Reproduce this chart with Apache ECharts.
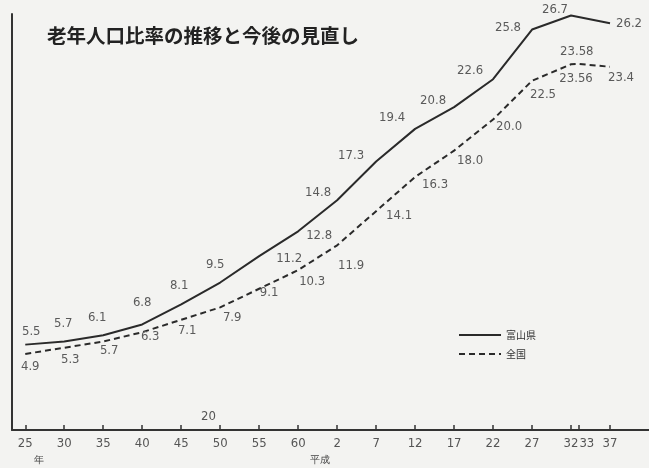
<!DOCTYPE html>
<html>
<head>
<meta charset="utf-8">
<script src="https://cdn.jsdelivr.net/npm/echarts@6/dist/echarts.min.js"></script>
<style>
html,body{margin:0;padding:0;background:#f3f3f1;}
#c{width:649px;height:468px;}
</style>
</head>
<body>
<div id="c"></div>
<script>
// ---- data ----
const tickYears  = [1950,1955,1960,1965,1970,1975,1980,1985,1990,1995,2000,2005,2010,2015,2020,2021,2025];
const tickLabels = ['25','30','35','40','45','50','55','60','2','7','12','17','22','27','32','33','37'];

const toyamaYears  = [1950,1955,1960,1965,1970,1975,1980,1985,1990,1995,2000,2005,2010,2015,2020,2025];
const toyamaValues = [5.5,5.7,6.1,6.8,8.1,9.5,11.2,12.8,14.8,17.3,19.4,20.8,22.6,25.8,26.7,26.2];

const nationalYears  = [1950,1955,1960,1965,1970,1975,1980,1985,1990,1995,2000,2005,2010,2015,2020,2021,2025];
const nationalValues = [4.9,5.3,5.7,6.3,7.1,7.9,9.1,10.3,11.9,14.1,16.3,18.0,20.0,22.5,23.56,23.58,23.4];

// label placement (styling only)
const toyamaLabelOffsets = [[6,-13],[-1,-18],[-6,-18],[0,-22],[-2,-19],[-5,-18],[30,2],[21,4],[-19,-8],[-25,-6],[-23,-11],[-21,-7],[-23,-9],[-24,-2],[-16,-6],[19,0]];
const nationalLabelOffsets = [[5,13],[6,12],[6,9],[8,4],[6,11],[12,10],[10,4],[14,12],[14,20],[23,4],[20,8],[16,10],[16,7],[11,14],[5,14],[-2,-12],[11,11]];

function fmt(v){ return Number.isInteger(Math.round(v*100)/10) ? v.toFixed(1) : String(v); }

function build(years, vals, offs){
  return years.map((y,i)=>({
    value:[y, vals[i]],
    label:{offset:offs[i]}
  }));
}

const labelFont = "'Liberation Sans Narrow','DejaVu Sans Condensed','Roboto',sans-serif";
const cjk = "'Noto Sans CJK JP','Noto Sans CJK SC',sans-serif";

const chart = echarts.init(document.getElementById('c'), null, {renderer:'canvas'});
chart.setOption({
  backgroundColor:'#f3f3f1',
  animation:false,
  title:{
    text:'老年人口比率の推移と今後の見直し',
    left:42, top:21,
    textStyle:{fontSize:19.5, fontWeight:'bold', color:'#222', fontFamily:cjk}
  },
  legend:{
    orient:'vertical', left:453, top:325,
    itemWidth:42, itemHeight:12, itemGap:9,
    textStyle:{fontSize:10, color:'#333', fontFamily:cjk},
    data:['富山県','全国']
  },
  grid:{left:12, right:0, top:14, bottom:38},
  xAxis:{
    type:'value', min:1948.3, max:2030,
    splitLine:{show:false},
    axisLine:{lineStyle:{color:'#333', width:2}},
    axisTick:{show:true, inside:true, length:5, customValues:tickYears, lineStyle:{color:'#333', width:1.5}},
    axisLabel:{
      customValues:tickYears, margin:7,
      fontSize:13, color:'#555', fontFamily:labelFont,
      formatter:function(v){
        const i = tickYears.indexOf(v);
        const t = i>=0 ? tickLabels[i] : '';
        if (v===2021) return '{s|'+t+'}';
        return t;
      },
      rich:{s:{fontSize:13, color:'#555', fontFamily:labelFont, padding:[0,0,0,16]}}
    }
  },
  yAxis:{
    type:'value', min:0, max:26.8,
    splitLine:{show:false},
    axisLine:{show:true, lineStyle:{color:'#333', width:2}},
    axisTick:{show:false},
    axisLabel:{show:false}
  },
  series:[
    {
      name:'富山県', type:'line',
      data:build(toyamaYears, toyamaValues, toyamaLabelOffsets),
      symbol:'circle', symbolSize:1,
      itemStyle:{color:'rgba(0,0,0,0)'},
      lineStyle:{color:'#2a2a2a', width:2, type:'solid'},
      label:{show:true, position:'inside', fontSize:13, color:'#5a5a5a', fontFamily:labelFont,
        formatter:p=>fmt(p.value[1])}
    },
    {
      name:'全国', type:'line',
      data:build(nationalYears, nationalValues, nationalLabelOffsets),
      symbol:'circle', symbolSize:1,
      itemStyle:{color:'rgba(0,0,0,0)'},
      lineStyle:{color:'#2a2a2a', width:2, type:[6,4]},
      label:{show:true, position:'inside', fontSize:13, color:'#5a5a5a', fontFamily:labelFont,
        formatter:p=>fmt(p.value[1])}
    }
  ],
  graphic:[
    {type:'text', left:34, top:455, style:{text:'年', fontSize:10, fill:'#444', font:"10px "+cjk}},
    {type:'text', left:310, top:455, style:{text:'平成', fontSize:10, fill:'#444', font:"10px "+cjk}},
    {type:'text', left:201, top:410, style:{text:'20', fill:'#555', font:"13px "+labelFont}}
  ]
});
</script>
</body>
</html>
